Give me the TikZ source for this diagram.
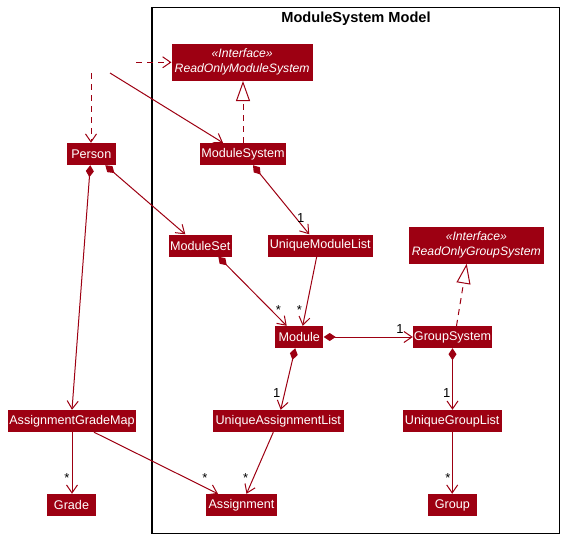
\documentclass[tikz,border=0pt]{standalone}
\usepackage{fontspec}
\setmainfont{Liberation Sans}
\usetikzlibrary{arrows.meta,calc}
\definecolor{mred}{HTML}{9D0012}
\begin{document}
\begin{tikzpicture}[x=1pt,y=-1pt,
  cls/.style={draw=none, fill=mred, text=white, minimum height=22pt, inner sep=0pt, font=\fontsize{12.6}{14}\selectfont},
  iface/.style={draw=none, fill=mred, text=white, minimum height=37pt, inner sep=0pt, align=center, font=\itshape\fontsize{12.2}{15}\selectfont},
  assoc/.style={draw=mred, line width=1pt, -{Straight Barb[length=8pt,width=11pt]}},
  comp/.style={draw=mred, line width=1pt, {Diamond[length=12pt,width=8pt]}-{Straight Barb[length=8pt,width=11pt]}},
  dep/.style={assoc, dash pattern=on 6pt off 5pt},
  real/.style={draw=mred, line width=1pt, dash pattern=on 6pt off 5pt, -{Triangle[open,length=20pt,width=14pt,fill=white]}},
  mult/.style={font=\fontsize{13}{13}\selectfont, text=black, inner sep=0pt, anchor=base}
]
\useasboundingbox (0,0) rectangle (565,538);
% frame
\draw[line width=1.2pt] (152,7.5) rectangle (559.5,533.5);
\node[font=\bfseries\fontsize{14.6}{16}\selectfont] (title) at (356,19) {ModuleSystem Model};

% nodes
\node[iface, minimum width=141pt] (roms) at (242.2,62.3) {\guillemotleft Interface\guillemotright\\ReadOnlyModuleSystem};
\node[cls, minimum width=49pt] (person) at (91.3,154) {Person};
\node[cls, minimum width=86pt] (ms) at (243,154) {ModuleSystem};
\node[cls, minimum width=63pt] (mset) at (200.3,245.5) {ModuleSet};
\node[cls, minimum width=105pt] (uml) at (320.3,245.5) {UniqueModuleList};
\node[iface, minimum width=135pt] (rogs) at (476.3,245) {\guillemotleft Interface\guillemotright\\ReadOnlyGroupSystem};
\node[cls, minimum width=48.5pt] (mod) at (299.2,337) {Module};
\node[cls, minimum width=79pt] (gs) at (452.5,337) {GroupSystem};
\node[cls, minimum width=128pt] (agm) at (72,421) {AssignmentGradeMap};
\node[cls, minimum width=131pt] (ual) at (278.3,421) {UniqueAssignmentList};
\node[cls, minimum width=99pt] (ugl) at (452.2,421) {UniqueGroupList};
\node[cls, minimum width=49pt] (grade) at (71.5,505) {Grade};
\node[cls, minimum width=71pt] (asg) at (241.5,505) {Assignment};
\node[cls, minimum width=49pt] (grp) at (452.3,505) {Group};

% hidden sources
\coordinate (h1) at (136,62.3);
\coordinate (h2) at (91,73);
\coordinate (h3) at (110,73);

% connectors
\draw[dep] (h1) -- (roms.west);
\draw[dep] (h2) -- (h2 |- person.north);
\draw[assoc] (h3) -- ([xshift=-20pt]ms.north);
\draw[real] (ms.north) -- (ms.north |- roms.south);
\draw[comp] ([xshift=10pt]ms.south) -- ([xshift=-11pt]uml.north);
\draw[comp] ([xshift=-1pt]person.south) -- (agm.north);
\draw[comp] ([xshift=14pt]person.south) -- ([xshift=-15pt]mset.north);
\draw[comp] ([xshift=18pt]mset.south) -- ([xshift=-12.5pt]mod.north);
\draw[assoc] ([xshift=-3.6pt]uml.south) -- ([xshift=3.5pt]mod.north);
\draw[comp] (mod.east) -- (gs.west);
\draw[real] ([xshift=4pt]gs.north) -- ([xshift=-9.6pt]rogs.south);
\draw[comp] ([xshift=-4pt]mod.south) -- ([xshift=2.4pt]ual.north);
\draw[comp] (gs.south) -- (gs.south |- ugl.north);
\draw[assoc] ([xshift=-5pt]ual.south) -- ([xshift=5pt]asg.north);
\draw[assoc] ([xshift=22pt]agm.south) -- ([xshift=-23.5pt]asg.north);
\draw[assoc] (agm.south) -- (agm.south |- grade.north);
\draw[assoc] (ugl.south) -- (ugl.south |- grp.north);

% multiplicities
\node[mult] (m1) at (300.7,222.7) {1};
\node[mult] (m2) at (278.3,314) {*};
\node[mult] (m3) at (299.3,314) {*};
\node[mult] (m4) at (400,333) {1};
\node[mult] (m5) at (276.7,397.7) {1};
\node[mult] (m6) at (446.7,397.7) {1};
\node[mult] (m7) at (67,482) {*};
\node[mult] (m8) at (205,482) {*};
\node[mult] (m9) at (245.7,482) {*};
\node[mult] (m10) at (448,482) {*};
\end{tikzpicture}
\end{document}
